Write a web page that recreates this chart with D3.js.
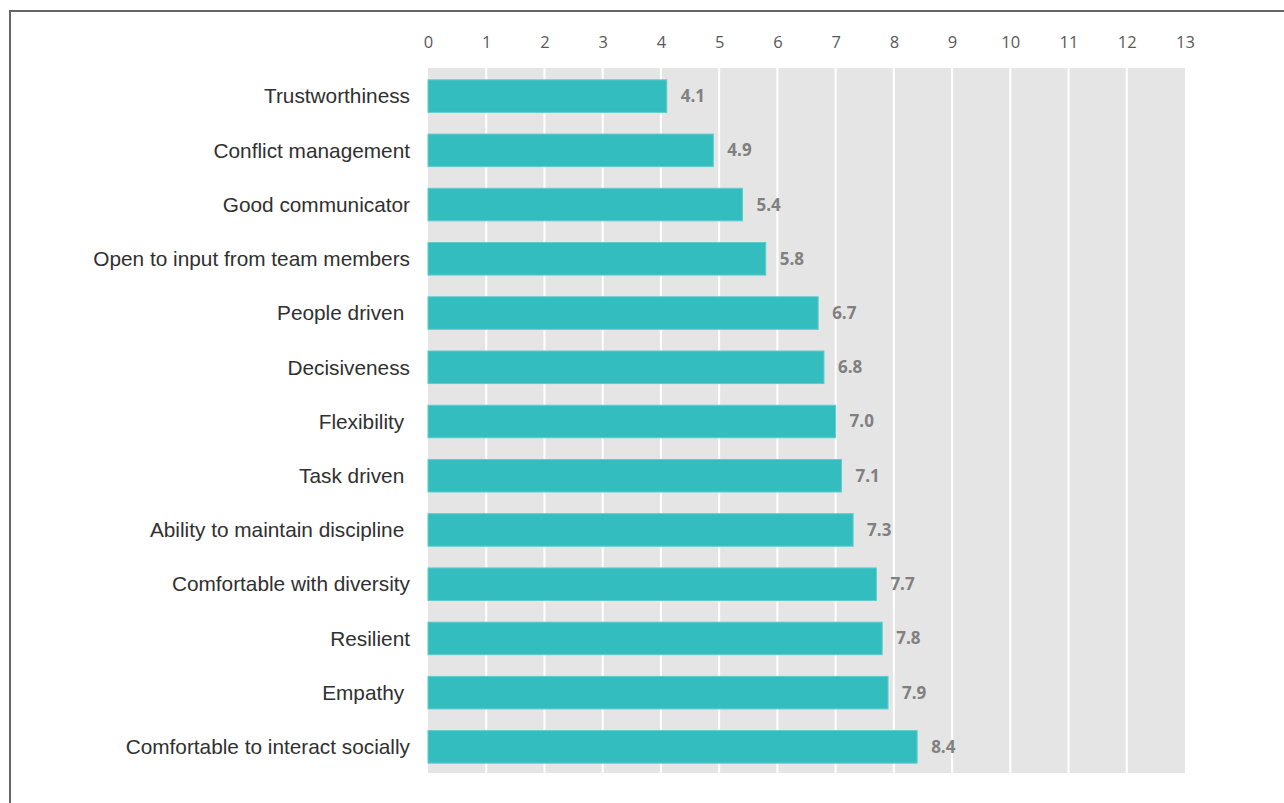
<!DOCTYPE html>
<html>
<head>
<meta charset="utf-8">
<script src="https://cdn.jsdelivr.net/npm/d3@7/dist/d3.min.js"></script>
<style>
  html, body { margin: 0; padding: 0; background: #ffffff; }
  svg { display: block; }
</style>
</head>
<body>
<svg id="chart" width="1284" height="803"></svg>
<script>
// Leadership attributes and their mean scores
const categories = [
  "Trustworthiness",
  "Conflict management",
  "Good communicator",
  "Open to input from team members",
  "People driven ",
  "Decisiveness",
  "Flexibility ",
  "Task driven ",
  "Ability to maintain discipline ",
  "Comfortable with diversity",
  "Resilient",
  "Empathy ",
  "Comfortable to interact socially"
];
const scores = [4.1, 4.9, 5.4, 5.8, 6.7, 6.8, 7.0, 7.1, 7.3, 7.7, 7.8, 7.9, 8.4];
const tickValues = [0, 1, 2, 3, 4, 5, 6, 7, 8, 9, 10, 11, 12, 13];

const rows = categories.map((c, i) => ({ name: c, value: scores[i] }));

const svg = d3.select("#chart");

// outer frame
svg.append("rect")
  .attr("x", 10).attr("y", 11)
  .attr("width", 1300).attr("height", 820)
  .attr("fill", "none")
  .attr("stroke", "#666666")
  .attr("stroke-width", 2);

const plot = { left: 428, right: 1185, top: 68, bottom: 773 };

const x = d3.scaleLinear()
  .domain([0, 13])
  .range([plot.left, plot.right]);

const y = d3.scaleBand()
  .domain(categories)
  .range([plot.top, plot.bottom])
  .paddingInner(0.4)
  .paddingOuter(0.2);

// plot background
svg.append("rect")
  .attr("x", plot.left).attr("y", plot.top)
  .attr("width", plot.right - plot.left)
  .attr("height", plot.bottom - plot.top)
  .attr("fill", "#e5e5e5");

// vertical gridlines
svg.append("g")
  .selectAll("line")
  .data(tickValues.slice(1, -1))
  .join("line")
  .attr("x1", d => x(d)).attr("x2", d => x(d))
  .attr("y1", plot.top).attr("y2", plot.bottom)
  .attr("stroke", "#ffffff")
  .attr("stroke-width", 2);

// top axis labels
const axis = svg.append("g")
  .attr("transform", `translate(0,${plot.top - 20})`)
  .call(d3.axisTop(x).tickValues(tickValues).tickSize(0).tickPadding(0).tickFormat(d3.format("d")));
axis.select(".domain").remove();
axis.selectAll("text")
  .attr("fill", "#595959")
  .attr("font-family", "'Open Sans', sans-serif")
  .attr("font-size", 16.5);

// category labels
svg.append("g")
  .selectAll("text")
  .data(rows)
  .join("text")
  .attr("x", plot.left - 18)
  .attr("y", d => y(d.name) + y.bandwidth() / 2 + 1)
  .attr("dy", "0.35em")
  .attr("text-anchor", "end")
  .style("white-space", "pre")
  .attr("fill", "#303030")
  .attr("font-family", "'Liberation Sans', Arial, sans-serif")
  .attr("font-size", 20.8)
  .text(d => d.name);

// bars
svg.append("g")
  .selectAll("rect")
  .data(rows)
  .join("rect")
  .attr("x", x(0))
  .attr("y", d => y(d.name) + 1)
  .attr("width", d => x(d.value) - x(0))
  .attr("height", y.bandwidth())
  .attr("fill", "#33bdbf")
  .attr("stroke", "#5fcccd")
  .attr("stroke-width", 1);

// value labels
svg.append("g")
  .selectAll("text")
  .data(rows)
  .join("text")
  .attr("x", d => x(d.value) + 14)
  .attr("y", d => y(d.name) + y.bandwidth() / 2 + 1)
  .attr("dy", "0.35em")
  .attr("fill", "#808080")
  .attr("font-weight", "bold")
  .attr("font-family", "'Open Sans', sans-serif")
  .attr("font-size", 17)
  .text(d => d3.format(".1f")(d.value));
</script>
</body>
</html>
